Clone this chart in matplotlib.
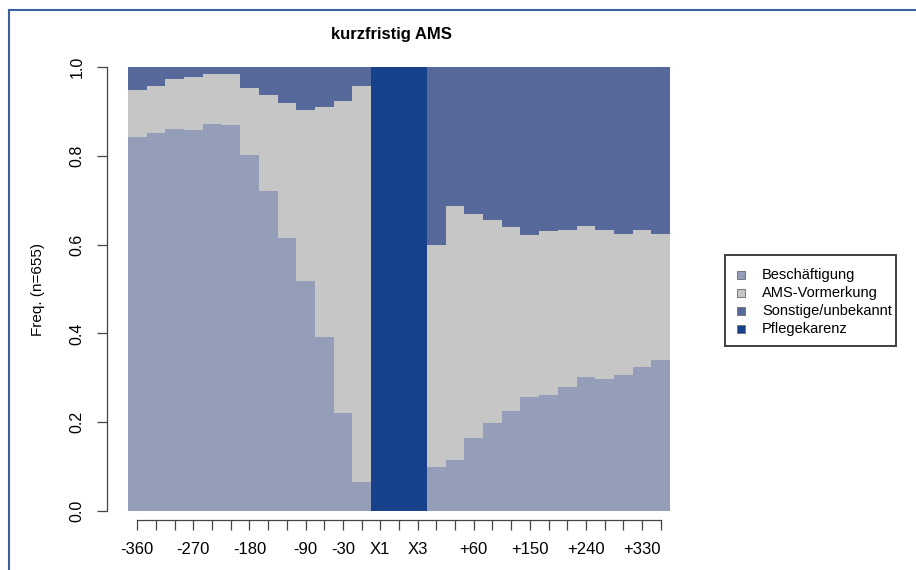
import matplotlib
matplotlib.use("Agg")
import matplotlib.pyplot as plt
from matplotlib.patches import Rectangle
import numpy as np

plt.rcParams['font.family'] = ['Liberation Sans', 'DejaVu Sans']

# time points (x categories)
tick_labels = ["-360", "-330", "-300", "-270", "-240", "-210", "-180", "-150", "-120",
               "-90", "-60", "-30", "0", "X1", "X2", "X3", "+0", "+30", "+60", "+90",
               "+120", "+150", "+180", "+210", "+240", "+270", "+300", "+330", "+360"]
shown_labels = ["-360", "-270", "-180", "-90", "-30", "X1", "X3", "+60", "+150", "+240", "+330"]

states = ["Beschäftigung", "AMS-Vormerkung", "Sonstige/unbekannt", "Pflegekarenz"]
colors = ["#949EB8", "#C6C6C6", "#56699A", "#17418A"]

# cumulative tops
besch_top = [0.842, 0.851, 0.860, 0.858, 0.871, 0.869, 0.801, 0.720, 0.614, 0.519,
             0.393, 0.221, 0.065, 0.0, 0.0, 0.0, 0.099, 0.115, 0.165, 0.199,
             0.226, 0.257, 0.262, 0.280, 0.302, 0.298, 0.307, 0.325, 0.341]
ams_top = [0.948, 0.957, 0.973, 0.977, 0.984, 0.984, 0.953, 0.937, 0.919, 0.903,
           0.910, 0.923, 0.957, 0.0, 0.0, 0.0, 0.600, 0.686, 0.668, 0.655,
           0.639, 0.621, 0.630, 0.634, 0.641, 0.632, 0.623, 0.632, 0.625]
pflege = [0, 0, 0, 0, 0, 0, 0, 0, 0, 0, 0, 0, 0, 1.0, 1.0, 1.0,
          0, 0, 0, 0, 0, 0, 0, 0, 0, 0, 0, 0, 0]

besch = np.array(besch_top)
ams = np.array(ams_top) - np.array(besch_top)
ams = np.where(np.array(pflege) > 0, 0, ams)
pfl = np.array(pflege, dtype=float)
sonst = 1.0 - besch - ams - pfl
sonst = np.where(pfl > 0, 0, sonst)

W, H = 916, 570
fig = plt.figure(figsize=(W / 100, H / 100), dpi=100)
x0, x1, y0, y1 = 128, 670, 67, 511
ax = fig.add_axes([x0 / W, 1 - y1 / H, (x1 - x0) / W, (y1 - y0) / H])

n = len(tick_labels)
x = np.arange(n)
bottom = np.zeros(n)
for vals, col in zip([besch, ams, sonst, pfl], colors):
    ax.bar(x, vals, width=1.0, bottom=bottom, color=col, edgecolor='none', linewidth=0, align='center')
    bottom = bottom + vals

ax.set_xlim(-0.5, n - 0.5)
ax.set_ylim(0, 1)

for s in ['top', 'right']:
    ax.spines[s].set_visible(False)
ax.spines['left'].set_position(('outward', 21 * 0.72))
ax.spines['left'].set_bounds(0, 1)
ax.spines['bottom'].set_position(('outward', 9 * 0.72))
ax.spines['bottom'].set_bounds(0, n - 1)
for s in ['left', 'bottom']:
    ax.spines[s].set_color('#444444')
    ax.spines[s].set_linewidth(0.9)

ax.set_yticks([0, 0.2, 0.4, 0.6, 0.8, 1.0])
ax.set_yticklabels(["0.0", "0.2", "0.4", "0.6", "0.8", "1.0"], rotation=90, va='center')
ax.tick_params(axis='y', length=7.2, width=0.9, color='#444444', pad=9, labelsize=11.5)

ax.set_xticks(x)
ax.set_xticklabels([lab if lab in shown_labels else "" for lab in tick_labels])
ax.tick_params(axis='x', length=7.2, width=0.9, color='#444444', pad=9, labelsize=12)

fig.text(38 / W, 1 - 289 / H, "Freq. (n=655)", rotation=90, ha='center', va='center', fontsize=11)
fig.text(391 / W, 1 - 35 / H, "kurzfristig AMS", ha='center', va='center', fontsize=12, fontweight='bold')

# legend drawn manually in figure pixel coordinates
def fx(px):
    return px / W

def fy(py):
    return 1 - py / H

fig.add_artist(Rectangle((fx(725), fy(346)), (896 - 725) / W, (346 - 255) / H,
                         transform=fig.transFigure, facecolor='white',
                         edgecolor='#404040', linewidth=1.4))
row_y = [275, 293, 311, 329]
for ry, col, lab in zip(row_y, colors, states):
    fig.add_artist(Rectangle((fx(737), fy(ry + 4)), 8 / W, 8 / H, transform=fig.transFigure,
                             facecolor=col, edgecolor='#777777', linewidth=0.7))
    fig.text(fx(762), fy(ry), lab, ha='left', va='center', fontsize=10.5)

# outer blue frame (top and left edges)
fig.add_artist(plt.Line2D([9 / W, 1.0], [1 - 10 / H, 1 - 10 / H], transform=fig.transFigure,
                          color='#3C5FA0', linewidth=1.5))
fig.add_artist(plt.Line2D([9 / W, 9 / W], [0, 1 - 10 / H], transform=fig.transFigure,
                          color='#3C5FA0', linewidth=1.5))

fig.savefig("out.png", dpi=100)
